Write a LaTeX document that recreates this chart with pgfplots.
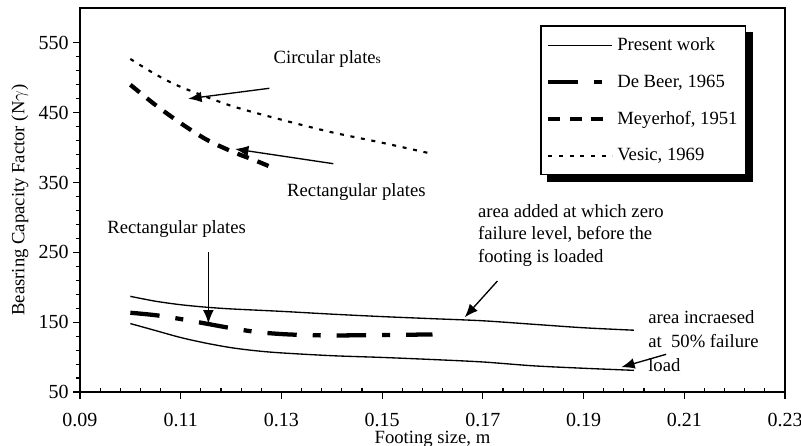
\documentclass[border=0pt]{standalone}
\usepackage{fontspec}
\setmainfont{Liberation Serif}
\usepackage{pgfplots}
\pgfplotsset{compat=1.18}
\usetikzlibrary{arrows.meta}
\pgfdeclarelayer{background}
\pgfsetlayers{background,main}
\newcommand{\fs}{\fontsize{14}{17}\selectfont}
\newcommand{\ft}{\fontsize{15}{18}\selectfont}
\begin{document}
\begin{tikzpicture}
\useasboundingbox (0,0) rectangle (600.75pt,334.5pt);
\begin{axis}[
  at={(60pt,40.5pt)}, anchor=south west,
  scale only axis, width=528.75pt, height=288pt,
  xmin=0.09, xmax=0.23, ymin=50, ymax=600,
  xtick={0.09,0.11,0.13,0.15,0.17,0.19,0.21,0.23},
  xticklabels={0.09,0.11,0.13,0.15,0.17,0.19,0.21,0.23},
  extra x ticks={0.094,0.098,0.102,0.106,0.114,0.118,0.122,0.126,0.134,0.138,0.142,0.146,
    0.154,0.158,0.162,0.166,0.174,0.178,0.182,0.186,0.194,0.198,0.202,0.206,0.214,0.218,0.222,0.226},
  extra x tick labels={},
  extra x tick style={tick align=inside, major tick length=3pt},
  ytick={50,150,250,350,450,550},
  minor y tick num=4,
  tick align=outside, xtick pos=bottom, ytick pos=left,
  major tick length=5pt, minor tick length=3pt,
  axis line style={line width=1.5pt},
  every tick/.style={black, line width=0.8pt},
  /pgf/number format/assume math mode=true,
  tick label style={font=\ft},
  xticklabel style={yshift=-7.5pt},
  xlabel={Footing size, m},
  ylabel={Beasring Capacity Factor (N$\gamma$)},
  xlabel style={font=\fs, at={(axis description cs:0.5,-0.1245)}, anchor=center},
  ylabel style={font=\fs, at={(axis description cs:-0.0851,0.5)}, anchor=center},
  legend cell align=left,
  legend image code/.code={\draw[#1] (0pt,0pt) -- (48pt,0pt);},
  legend style={name=leg, at={(0.945,0.955)}, anchor=north east, draw=black, line width=1pt,
    fill=white, font=\fs, row sep=12.5pt, inner xsep=4pt, inner ysep=7pt},
]
% Present work (upper)
\addplot[black, line width=1pt, smooth] coordinates {
 (0.10,187) (0.105,180) (0.11,175) (0.115,171.5) (0.12,169) (0.13,165.5)
 (0.14,161.5) (0.15,158) (0.16,155) (0.17,152) (0.18,147) (0.19,142) (0.20,138.5)};
\addlegendentry{Present work}
% De Beer (lower rectangular)
\addplot[black, line width=3.2pt, smooth, dash pattern=on 22pt off 12pt on 6pt off 12pt] coordinates {
 (0.10,163.5) (0.105,160) (0.11,154.5) (0.115,148) (0.12,141.5) (0.125,136)
 (0.13,133) (0.135,131.5) (0.14,131) (0.15,131.5) (0.16,132.5)};
\addlegendentry{De Beer, 1965}
% Meyerhof (upper rectangular)
\addplot[black, line width=3.2pt, smooth, dash pattern=on 9pt off 7pt] coordinates {
 (0.10,490) (0.105,461) (0.11,435) (0.115,412) (0.12,395) (0.125,381) (0.128,372)};
\addlegendentry{Meyerhof, 1951}
% Vesic (circular)
\addplot[black, line width=1.6pt, smooth, dash pattern=on 3pt off 5pt] coordinates {
 (0.10,527) (0.105,505) (0.11,487) (0.12,460) (0.13,440) (0.14,422) (0.15,407) (0.16,391)};
\addlegendentry{Vesic, 1969}
% Present work (lower)
\addplot[black, line width=1pt, smooth, forget plot] coordinates {
 (0.10,148) (0.105,138) (0.11,128) (0.115,120) (0.12,113.5) (0.125,109) (0.13,106)
 (0.14,102) (0.15,99.5) (0.16,96.5) (0.17,93) (0.18,87.5) (0.19,84) (0.20,81)};

% annotations
\draw[-{Latex[length=10pt,width=8pt]}, line width=1pt] (axis cs:0.1276,485) -- (axis cs:0.1115,470);
\draw[-{Latex[length=10pt,width=8pt]}, line width=1pt] (axis cs:0.1403,377) -- (axis cs:0.1208,398);
\draw[-{Latex[length=10pt,width=8pt]}, line width=1pt] (axis cs:0.1155,250) -- (axis cs:0.1155,148);
\draw[-{Latex[length=10pt,width=8pt]}, line width=1pt] (axis cs:0.1729,209) -- (axis cs:0.1664,157);
\draw[-{Latex[length=10pt,width=8pt]}, line width=1pt] (axis cs:0.2064,104) -- (axis cs:0.1975,85.5);
\node[anchor=west, font=\fs, inner sep=0pt] at (axis cs:0.1284,527) {Circular plate{\fontsize{10}{12}\selectfont s}};
\node[anchor=west, font=\fs, inner sep=0pt] at (axis cs:0.1311,336) {Rectangular plates};
\node[anchor=west, font=\fs, inner sep=0pt] at (axis cs:0.0954,284) {Rectangular plates};
\node[anchor=west, font=\fs, inner sep=0pt] at (axis cs:0.169,309) {area added at which zero};
\node[anchor=west, font=\fs, inner sep=0pt] at (axis cs:0.169,276) {failure level, before the};
\node[anchor=west, font=\fs, inner sep=0pt] at (axis cs:0.169,242.5) {footing is loaded};
\node[anchor=west, font=\fs, inner sep=0pt] at (axis cs:0.2028,157.5) {area incraesed};
\node[anchor=west, font=\fs, inner sep=0pt] at (axis cs:0.2028,122.5) {at\ \ 50\% failure};
\node[anchor=west, font=\fs, inner sep=0pt] at (axis cs:0.2028,89) {load};
\end{axis}
\begin{pgfonlayer}{background}
\fill[black] ([shift={(5pt,-5pt)}]leg.south west) rectangle ([shift={(5pt,-5pt)}]leg.north east);
\end{pgfonlayer}
\end{tikzpicture}
\end{document}
